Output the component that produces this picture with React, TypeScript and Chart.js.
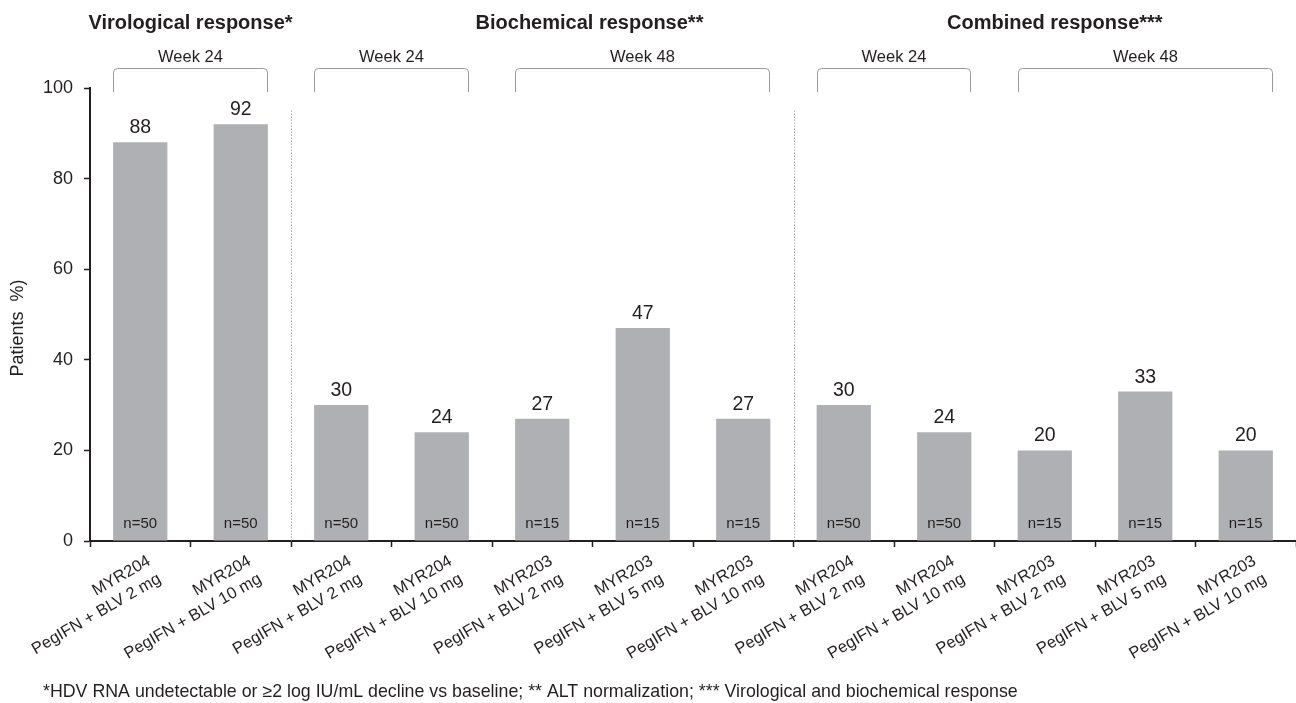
import { useEffect, useRef } from 'react';
import { Chart, registerables } from 'chart.js';

Chart.register(...registerables);

const FONT = '"Liberation Sans", Arial, Helvetica, sans-serif';
const TEXT = '#231f20';
const BAR = '#afb0b3';
const BRACKET = '#9a9a9a';

// ---- data ----
const studies = ['MYR204', 'MYR204', 'MYR204', 'MYR204', 'MYR203', 'MYR203', 'MYR203', 'MYR204', 'MYR204', 'MYR203', 'MYR203', 'MYR203'];
const regimens = [
  'PegIFN + BLV 2 mg', 'PegIFN + BLV 10 mg',
  'PegIFN + BLV 2 mg', 'PegIFN + BLV 10 mg', 'PegIFN + BLV 2 mg', 'PegIFN + BLV 5 mg', 'PegIFN + BLV 10 mg',
  'PegIFN + BLV 2 mg', 'PegIFN + BLV 10 mg', 'PegIFN + BLV 2 mg', 'PegIFN + BLV 5 mg', 'PegIFN + BLV 10 mg',
];
const percentages = [88, 92, 30, 24, 27, 47, 27, 30, 24, 20, 33, 20];
const sampleSizes = ['n=50', 'n=50', 'n=50', 'n=50', 'n=15', 'n=15', 'n=15', 'n=50', 'n=50', 'n=15', 'n=15', 'n=15'];

const sectionTitles = ['Virological response*', 'Biochemical response**', 'Combined response***'];
const sectionTitleAt = [0.5, 4.47, 9.1]; // category units

const periodLabels = ['Week 24', 'Week 24', 'Week 48', 'Week 24', 'Week 48'];
const periodFrom = [0, 2, 4, 7, 9];
const periodTo = [1, 3, 6, 8, 11];

const dividersAfter = [1, 6];
const dividerTop = 95;

const yMin = 0;
const yMax = 100;
const yStep = 20;
const yTitle = 'Patients  %)';
const footnote = '*HDV RNA undetectable or \u22652 log IU/mL decline vs baseline; ** ALT normalization; *** Virological and biochemical response';

// ---- layout constants ----
const W = 1296;
const H = 703;
const PLOT_LEFT = 90;
const PLOT_TOP = 88;
const PLOT_BOTTOM = 541;

export default function App() {
  const ref = useRef<HTMLCanvasElement>(null);

  useEffect(() => {
    if (!ref.current) return;

    const overlay = {
      id: 'overlay',
      afterDatasetsDraw(chart: any) {
        const ctx = chart.ctx as CanvasRenderingContext2D;
        const xs = chart.scales.x;
        const ys = chart.scales.y;
        const meta = chart.getDatasetMeta(0);
        const bars = meta.data.map((b: any) => b.getProps(['x', 'y', 'width'], true));
        ctx.save();

        // dotted dividers
        ctx.strokeStyle = '#8a8a8a';
        ctx.lineWidth = 1;
        ctx.setLineDash([1, 2]);
        dividersAfter.forEach((i) => {
          const px = Math.round(xs.getPixelForValue(i + 0.5)) + 0.5;
          ctx.beginPath();
          ctx.moveTo(px, ys.getPixelForValue(dividerTop));
          ctx.lineTo(px, ys.getPixelForValue(0));
          ctx.stroke();
        });
        ctx.setLineDash([]);

        // value labels and n labels
        ctx.fillStyle = TEXT;
        ctx.textAlign = 'center';
        bars.forEach((b: any, i: number) => {
          ctx.font = `19.5px ${FONT}`;
          ctx.textBaseline = 'alphabetic';
          ctx.fillText(String(percentages[i]), b.x, b.y - 9);
          ctx.font = `15px ${FONT}`;
          ctx.textBaseline = 'middle';
          ctx.fillText(sampleSizes[i], b.x, ys.getPixelForValue(0) - 17);
        });

        // section titles
        ctx.font = `bold 20px ${FONT}`;
        ctx.textBaseline = 'middle';
        sectionTitles.forEach((t, i) => {
          ctx.fillText(t, xs.getPixelForValue(sectionTitleAt[i]), 23);
        });

        // period brackets
        ctx.font = `16.5px ${FONT}`;
        ctx.strokeStyle = BRACKET;
        ctx.lineWidth = 1;
        periodLabels.forEach((t, i) => {
          const a = bars[periodFrom[i]];
          const z = bars[periodTo[i]];
          const left = Math.round(a.x - a.width / 2) + 0.5;
          const right = Math.round(z.x + z.width / 2) - 0.5;
          const top = 68.5;
          const bottom = 92;
          const r = 4;
          ctx.beginPath();
          ctx.moveTo(left, bottom);
          ctx.lineTo(left, top + r);
          ctx.arcTo(left, top, left + r, top, r);
          ctx.lineTo(right - r, top);
          ctx.arcTo(right, top, right, top + r, r);
          ctx.lineTo(right, bottom);
          ctx.stroke();
          ctx.fillText(t, (left + right) / 2, 57);
        });

        // y-axis title
        ctx.save();
        ctx.translate(18, 328);
        ctx.rotate(-Math.PI / 2);
        ctx.font = `18px ${FONT}`;
        ctx.textAlign = 'center';
        ctx.textBaseline = 'middle';
        ctx.fillText(yTitle, 0, 0);
        ctx.restore();

        // footnote
        ctx.font = `17.8px ${FONT}`;
        ctx.textAlign = 'left';
        ctx.textBaseline = 'middle';
        ctx.fillText(footnote, 43, 692);
        ctx.restore();
      },
    };

    const chart = new Chart(ref.current, {
      type: 'bar',
      data: {
        labels: studies.map((s, i) => [s, regimens[i]]),
        datasets: [
          {
            data: percentages,
            backgroundColor: BAR,
            borderWidth: 0,
            barPercentage: 0.9,
            categoryPercentage: 0.6,
          },
        ],
      },
      options: {
        responsive: false,
        animation: false,
        events: [],
        layout: { padding: { top: PLOT_TOP, left: 0, right: 0, bottom: 0 } },
        plugins: {
          legend: { display: false },
          tooltip: { enabled: false },
          title: { display: false },
        },
        scales: {
          x: {
            afterFit: (s: any) => {
              s.height = H - PLOT_BOTTOM;
            },
            grid: {
              display: true,
              drawOnChartArea: false,
              drawTicks: true,
              tickLength: 6,
              tickColor: TEXT,
              tickWidth: 1.5,
              offset: true,
            },
            border: { display: true, color: TEXT, width: 2 },
            ticks: {
              autoSkip: false,
              minRotation: 30,
              maxRotation: 30,
              padding: 4,
              labelOffset: 9,
              color: TEXT,
              font: { family: FONT, size: 16.5, lineHeight: 1.25 },
            },
          },
          y: {
            min: yMin,
            max: yMax,
            afterFit: (s: any) => {
              s.width = PLOT_LEFT;
            },
            grid: {
              display: true,
              drawOnChartArea: false,
              drawTicks: true,
              tickLength: 6,
              tickColor: TEXT,
              tickWidth: 1.5,
            },
            border: { display: true, color: TEXT, width: 2 },
            ticks: {
              stepSize: yStep,
              padding: 11,
              color: TEXT,
              font: { family: FONT, size: 18 },
            },
            title: { display: false },
          },
        },
      },
      plugins: [overlay],
    });

    return () => chart.destroy();
  }, []);

  return (
    <div style={{ position: 'absolute', left: 0, top: 0, width: W, height: H, background: '#fff' }}>
      <canvas ref={ref} width={W} height={H} style={{ display: 'block' }} />
    </div>
  );
}
